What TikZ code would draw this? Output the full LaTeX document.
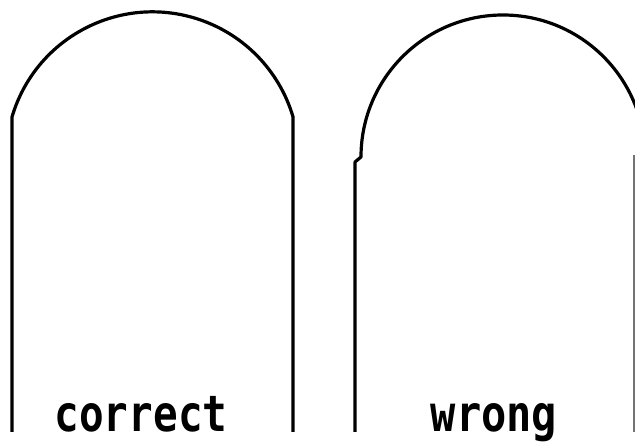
\documentclass[tikz,border=0pt]{standalone}
\usepackage{fontspec}
\usepackage{graphicx}
\newfontfamily\plotfont{DejaVu Sans Mono}
\tikzset{
  archline/.style={line width=3.2pt, line join=round, line cap=butt},
  thinstem/.style={line width=1.3pt, draw=black!55},
  lbl/.style={anchor=base, inner sep=0pt, font=\plotfont\bfseries\fontsize{50}{50}\selectfont}
}
\begin{document}
\begin{tikzpicture}[x=1pt,y=1pt]
\useasboundingbox (0,0) rectangle (635,447);
\clip (0,0) rectangle (635,447);
% correct arch
\draw[archline] (12,15) -- (12,330) arc[start angle=163.6, end angle=16.4, radius=146.5pt] -- (293,15);
% wrong arch
\draw[archline] (355,15) -- (355,285) -- (361,290) arc[start angle=180, end angle=0, radius=142pt];
\draw[thinstem] (634,15) -- (634,292);
\node[lbl] (correct) at (141,15) {\scalebox{0.82}[1]{correct}};
\node[lbl] (wrong) at (494,15) {\scalebox{0.84}[1]{wrong}};
\end{tikzpicture}
\end{document}
